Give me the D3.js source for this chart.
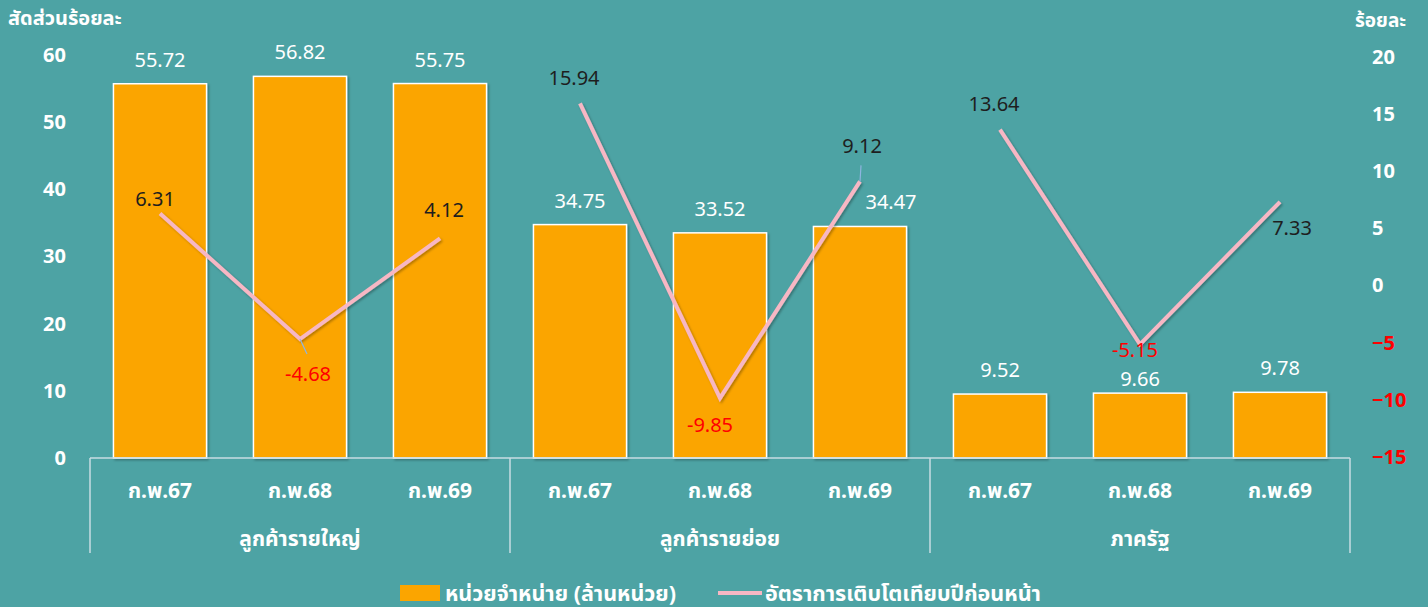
<!DOCTYPE html>
<html>
<head>
<meta charset="utf-8">
<script src="https://cdn.jsdelivr.net/npm/d3@7"></script>
<style>
  body { margin: 0; background: #4da3a4; }
  svg { display: block; }
  text { font-family: "Noto Sans", "Noto Sans Thai", "Open Sans", sans-serif; }
</style>
</head>
<body>
<div id="main_content"></div>
<script>
var groups = ['ลูกค้ารายใหญ่', 'ลูกค้ารายย่อย', 'ภาครัฐ'];
var months = ['ก.พ.67', 'ก.พ.68', 'ก.พ.69'];
var units = [55.72, 56.82, 55.75, 34.75, 33.52, 34.47, 9.52, 9.66, 9.78];
var growth = [6.31, -4.68, 4.12, 15.94, -9.85, 9.12, 13.64, -5.15, 7.33];
var leftTicks = [0, 10, 20, 30, 40, 50, 60];
var rightTicks = [-15, -10, -5, 0, 5, 10, 15, 20];

// growth label offset from its point (dx, dy) and leader line end (or null)
var labelPos = [
  [-5, -7, null], [8, 42, [7, 15]], [4, -21, null],
  [-6, -18, null], [-10, 34, null], [2, -28, [1, -16]],
  [-6, -19, null], [-5, 13, null], [12, 33, null]
];
// bar label nudges (dx, dy) where excel moved them off the line
var barLabelPos = [[0, 0], [0, 0], [0, 0], [0, 0], [0, 0], [31, 0], [0, 0], [0, 10], [0, 0]];

var width = 1428, height = 607;
var bg = '#4da3a4', barColor = '#fba500', lineColor = '#f7b7c4';

var svg = d3.select('#main_content').append('svg')
  .attr('width', width)
  .attr('height', height)
  .style('background', bg);

var defs = svg.append('defs');
var f = defs.append('filter').attr('id', 'shadow')
  .attr('x', '-10%').attr('y', '-10%').attr('width', '130%').attr('height', '130%');
f.append('feDropShadow').attr('dx', 1.5).attr('dy', 1.5).attr('stdDeviation', 1.2)
  .attr('flood-color', '#000').attr('flood-opacity', 0.3);

var keys = [];
groups.forEach(function(g) {
  months.forEach(function(m) { keys.push(g + '|' + m); });
});

var x = d3.scaleBand().domain(keys).range([90, 1350]).paddingInner(0.335).paddingOuter(0.1675);
var yL = d3.scaleLinear().domain([0, 60]).range([458, 55]);
var yR = d3.scaleLinear().domain([-15, 20]).range([457, 57]);

// axes
var leftAxis = svg.append('g')
  .attr('transform', 'translate(66,0)')
  .call(d3.axisLeft(yL).tickValues(leftTicks).tickSize(0).tickPadding(0));
leftAxis.select('.domain').remove();
leftAxis.selectAll('text')
  .attr('fill', '#fff').attr('font-size', 20).attr('font-weight', 'bold')
  .style('font-family', '"Noto Sans", sans-serif');

var rightAxis = svg.append('g')
  .attr('transform', 'translate(1372,0)')
  .call(d3.axisRight(yR).tickValues(rightTicks).tickSize(0).tickPadding(0));
rightAxis.select('.domain').remove();
rightAxis.selectAll('text')
  .attr('fill', function(d) { return d < 0 ? '#ff0000' : '#fff'; })
  .attr('font-size', 20).attr('font-weight', 'bold')
  .style('font-family', '"Noto Sans", sans-serif');

svg.append('text').attr('x', 8).attr('y', 25)
  .attr('fill', '#fff').attr('font-size', 20).attr('font-weight', 'bold')
  .text('สัดส่วนร้อยละ');
svg.append('text').attr('x', 1355).attr('y', 27)
  .attr('fill', '#fff').attr('font-size', 19).attr('font-weight', 'bold')
  .text('ร้อยละ');

// bars
svg.selectAll('rect.bar')
  .data(units)
  .enter().append('rect')
  .attr('class', 'bar')
  .attr('x', function(d, i) { return x(keys[i]); })
  .attr('y', function(d) { return yL(d); })
  .attr('width', x.bandwidth())
  .attr('height', function(d) { return yL(0) - yL(d); })
  .attr('fill', barColor)
  .attr('stroke', '#fff')
  .attr('stroke-width', 1.5)
  .attr('filter', 'url(#shadow)');

svg.selectAll('text.barval')
  .data(units)
  .enter().append('text')
  .attr('class', 'barval')
  .attr('x', function(d, i) { return x(keys[i]) + x.bandwidth() / 2 + barLabelPos[i][0]; })
  .attr('y', function(d, i) { return yL(d) - 17 + barLabelPos[i][1]; })
  .attr('text-anchor', 'middle')
  .attr('fill', '#fff')
  .attr('font-size', 20)
  .text(function(d) { return d.toFixed(2); });

// category axis
var axisY = yL(0);
var axisCol = '#c9dde3';
svg.append('line').attr('x1', 90).attr('x2', 1350).attr('y1', axisY).attr('y2', axisY)
  .attr('stroke', axisCol).attr('stroke-width', 1.5);
var seps = [0, 3, 6, 9];
svg.selectAll('line.sep')
  .data(seps)
  .enter().append('line')
  .attr('class', 'sep')
  .attr('x1', function(d) { return 90 + d * x.step(); })
  .attr('x2', function(d) { return 90 + d * x.step(); })
  .attr('y1', axisY).attr('y2', 553)
  .attr('stroke', axisCol).attr('stroke-width', 1.5);

svg.selectAll('text.month')
  .data(keys)
  .enter().append('text')
  .attr('class', 'month')
  .attr('x', function(d) { return x(d) + x.bandwidth() / 2; })
  .attr('y', 498)
  .attr('text-anchor', 'middle')
  .attr('fill', '#fff').attr('font-size', 21).attr('font-weight', 'bold')
  .text(function(d) { return d.split('|')[1]; });

svg.selectAll('text.group')
  .data(groups)
  .enter().append('text')
  .attr('class', 'group')
  .attr('x', function(d, i) { return 90 + (i * 3 + 1.5) * x.step(); })
  .attr('y', 546)
  .attr('text-anchor', 'middle')
  .attr('fill', '#fff').attr('font-size', 21).attr('font-weight', 'bold')
  .text(function(d) { return d; });

// growth lines, one per group
var line = d3.line()
  .x(function(d) { return x(keys[d]) + x.bandwidth() / 2; })
  .y(function(d) { return yR(growth[d]); });

groups.forEach(function(g, gi) {
  svg.append('path')
    .datum([gi * 3, gi * 3 + 1, gi * 3 + 2])
    .attr('d', line)
    .attr('fill', 'none')
    .attr('stroke', lineColor)
    .attr('stroke-width', 4)
    .attr('stroke-linejoin', 'miter')
    .attr('filter', 'url(#shadow)');
});

// leader lines
growth.forEach(function(d, i) {
  var ld = labelPos[i][2];
  if (!ld) return;
  var px = x(keys[i]) + x.bandwidth() / 2, py = yR(d);
  svg.append('line')
    .attr('x1', px).attr('y1', py)
    .attr('x2', px + ld[0]).attr('y2', py + ld[1])
    .attr('stroke', '#8fb4e0').attr('stroke-width', 1.2);
});

svg.selectAll('text.growth')
  .data(growth)
  .enter().append('text')
  .attr('class', 'growth')
  .attr('x', function(d, i) { return x(keys[i]) + x.bandwidth() / 2 + labelPos[i][0]; })
  .attr('y', function(d, i) { return yR(d) + labelPos[i][1]; })
  .attr('text-anchor', 'middle')
  .attr('fill', function(d) { return d < 0 ? '#ff0000' : '#1e1e1e'; })
  .attr('font-size', 20)
  .text(function(d) { return d.toFixed(2); });

// legend
var lg = svg.append('g');
lg.append('rect').attr('x', 400).attr('y', 585).attr('width', 40).attr('height', 16)
  .attr('fill', barColor);
lg.append('text').attr('x', 445).attr('y', 601)
  .attr('fill', '#fff').attr('font-size', 21.5).attr('font-weight', 'bold')
  .text('หน่วยจำหน่าย (ล้านหน่วย)');
lg.append('line').attr('x1', 718).attr('x2', 762).attr('y1', 593).attr('y2', 593)
  .attr('stroke', lineColor).attr('stroke-width', 4);
lg.append('text').attr('x', 765).attr('y', 601)
  .attr('fill', '#fff').attr('font-size', 21.5).attr('font-weight', 'bold')
  .text('อัตราการเติบโตเทียบปีก่อนหน้า');
</script>
</body>
</html>
